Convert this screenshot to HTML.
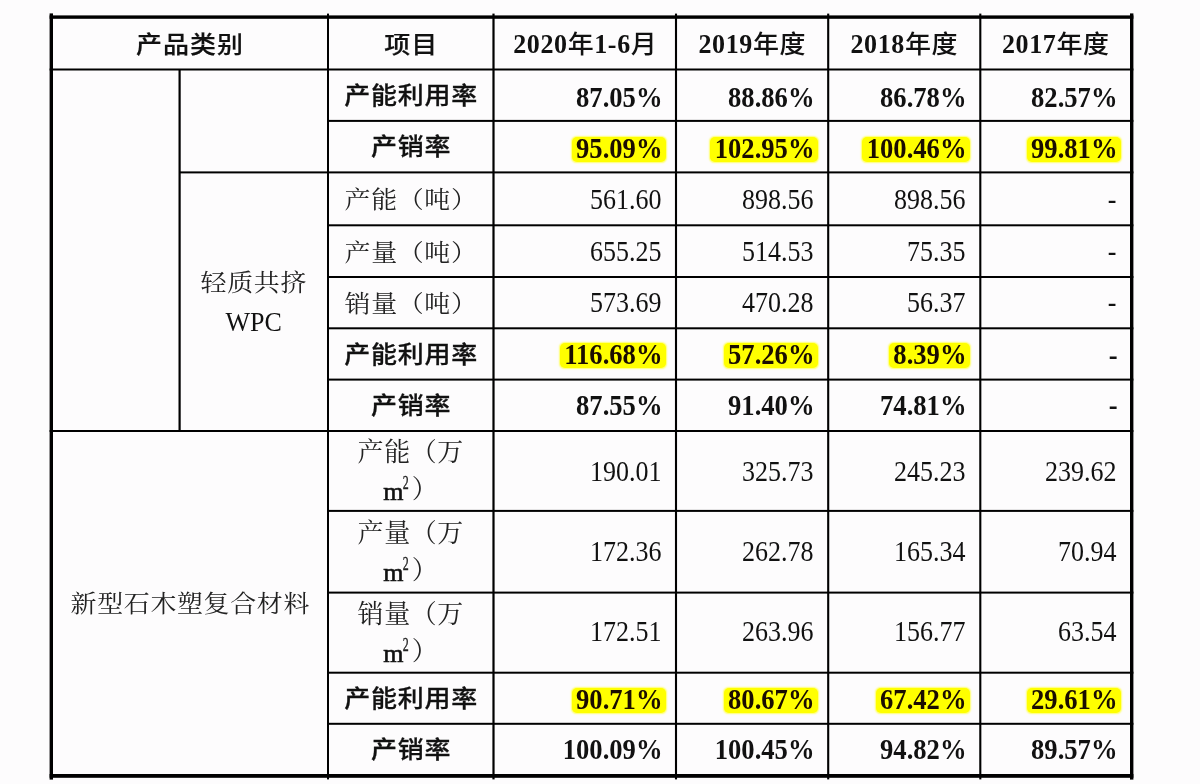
<!DOCTYPE html>
<html><head><meta charset="utf-8"><style>
html,body{margin:0;padding:0;}
body{width:1200px;height:784px;background:#fdfcfd;position:relative;overflow:hidden;}
.l{position:absolute;background:#000;}
.l.g{background:#3a3a3a;}
.c{position:absolute;display:flex;align-items:center;justify-content:center;text-align:center;box-sizing:border-box;white-space:nowrap;}
.c.r{justify-content:flex-end;padding-right:13.5px;}
.i{display:block;}
.hk{font-family:"Noto Sans CJK SC",sans-serif;font-weight:500;font-size:26px;color:#111;letter-spacing:1px;-webkit-text-stroke:0.2px #111;}
.hk .i{transform:translate(0.5px,-2px) scaleY(0.9);}
.hy{font-family:"Noto Sans CJK SC",sans-serif;font-weight:500;font-size:26px;color:#111;letter-spacing:0.6px;}
.hy .i{transform:translate(0.3px,-3.2px) scaleY(0.98);}
.ltb{font-family:"Liberation Serif",serif;font-weight:700;display:inline-block;transform:scaleY(1.1);}
.lb{font-family:"Noto Sans CJK SC",sans-serif;font-weight:500;font-size:26px;color:#111;letter-spacing:0.8px;-webkit-text-stroke:0.3px #111;}
.lb .i{transform:translate(0.4px,-1.5px) scaleY(0.9);}
.lr,.lr2l{font-family:"Liberation Serif","Noto Serif CJK SC",serif;font-weight:400;font-size:26px;color:#222;letter-spacing:0.6px;}
.lr .i{transform:translate(0.3px,-0.5px) scaleY(0.9);}
.lr2l{line-height:37px;}
.sp{display:inline-block;font-size:14px;line-height:10px;transform:translate(-1.8px,-10px) scale(0.85,1.3);font-weight:400;-webkit-text-stroke:0.3px #222;}
.m{font-weight:400;-webkit-text-stroke:0.6px #111;color:#111;display:inline-block;transform:translateY(1.5px);}
.lw,.ln{font-family:"Liberation Serif","Noto Serif CJK SC",serif;font-weight:400;font-size:26px;color:#222;line-height:40px;letter-spacing:0.6px;}
.ln .i{transform:translate(0.3px,1.5px) scaleY(0.9);}
.wpc{color:#111;display:inline-block;transform:scaleY(1.08);letter-spacing:0;}
.n{display:inline-block;line-height:20px;transform:translateY(2px) scaleY(1.1);}
.nb{font-family:"Liberation Serif",serif;font-weight:700;font-size:26.6px;color:#111;}
.c.r.nb{padding-right:12.5px;}
.nb .n{transform:translateY(2px) scaleY(1.075);}
.nb .hl .n{transform:scaleY(1.075);}
.nr{font-family:"Liberation Serif",serif;font-weight:400;font-size:26px;color:#111;}
.hl{display:inline-block;line-height:20px;background:#ffff00;border-radius:5px;padding:0.5px 3.5px 4.5px 4.5px;margin-right:-3.5px;transform:translateY(3px);box-shadow:0 0 1.5px 0.5px #ffff70;color:#1a0d00;}
.hl .n{transform:scaleY(1.1);}
.k{display:inline-block;transform:translateY(1.5px) scaleY(0.92);}
.nb .i,.nr .i{display:flex;align-items:center;}
#w{position:absolute;left:0;top:0;width:1200px;height:784px;filter:blur(0.35px);}
.lines{position:absolute;left:0;top:0;}

</style></head><body><div id="w">
<svg class="lines" width="1200" height="784" viewBox="0 0 1200 784"><rect x="49.6" y="15.4" width="1083.8" height="3.4" fill="#000"/><rect x="49.6" y="68.5" width="1083.8" height="2.0" fill="#000"/><rect x="328" y="119.9" width="805.4" height="2.0" fill="#000"/><rect x="179.6" y="171.4" width="953.8" height="2.0" fill="#000"/><rect x="328" y="224.3" width="805.4" height="2.0" fill="#000"/><rect x="328" y="276.0" width="805.4" height="2.0" fill="#000"/><rect x="328" y="327.3" width="805.4" height="2.0" fill="#000"/><rect x="328" y="378.6" width="805.4" height="2.0" fill="#000"/><rect x="49.6" y="430.0" width="1083.8" height="2.0" fill="#000"/><rect x="328" y="509.9" width="805.4" height="2.0" fill="#000"/><rect x="328" y="591.6" width="805.4" height="2.0" fill="#000"/><rect x="328" y="671.7" width="805.4" height="2.0" fill="#000"/><rect x="328" y="722.8" width="805.4" height="2.0" fill="#000"/><rect x="49.6" y="774.0" width="1083.8" height="3.8" fill="#000"/><rect x="49.6" y="13.4" width="3.4" height="766.2" fill="#000"/><rect x="178.5" y="69.5" width="2.2" height="361.5" fill="#000"/><rect x="327.0" y="13.6" width="2.0" height="765.8" fill="#000"/><rect x="492.4" y="13.6" width="2.2" height="765.8" fill="#000"/><rect x="674.95" y="13.6" width="2.1" height="765.8" fill="#000"/><rect x="827.15" y="13.6" width="2.1" height="765.8" fill="#000"/><rect x="979.25" y="13.6" width="2.1" height="765.8" fill="#000"/><rect x="1130.0" y="13.4" width="3.4" height="766.2" fill="#000"/></svg>
<div class="c hk c" style="left:51px;top:19px;width:277px;height:50px"><div class="i">产品类别</div></div>
<div class="c hk c" style="left:328px;top:19px;width:165.5px;height:50px"><div class="i">项目</div></div>
<div class="c hy c" style="left:494px;top:19px;width:182px;height:50px"><div class="i"><span class="ltb">2020</span>年<span class="ltb">1-6</span>月</div></div>
<div class="c hy c" style="left:676px;top:19px;width:152px;height:50px"><div class="i"><span class="ltb">2019</span>年度</div></div>
<div class="c hy c" style="left:828px;top:19px;width:152px;height:50px"><div class="i"><span class="ltb">2018</span>年度</div></div>
<div class="c hy c" style="left:980px;top:19px;width:151px;height:50px"><div class="i"><span class="ltb">2017</span>年度</div></div>
<div class="c lb c" style="left:329px;top:71px;width:163.5px;height:49px"><div class="i">产能利用率</div></div>
<div class="c nb r" style="left:495px;top:70.6px;width:180px;height:49.0px"><div class="i"><span class="n">87.05%</span></div></div>
<div class="c nb r" style="left:677px;top:70.6px;width:150px;height:49.0px"><div class="i"><span class="n">88.86%</span></div></div>
<div class="c nb r" style="left:829px;top:70.6px;width:150px;height:49.0px"><div class="i"><span class="n">86.78%</span></div></div>
<div class="c nb r" style="left:981px;top:70.6px;width:149px;height:49.0px"><div class="i"><span class="n">82.57%</span></div></div>
<div class="c lb c" style="left:329px;top:122px;width:163.5px;height:49px"><div class="i">产销率</div></div>
<div class="c nb r" style="left:495px;top:122.0px;width:180px;height:49.0px"><div class="i"><span class="hl"><span class="n">95.09%</span></span></div></div>
<div class="c nb r" style="left:677px;top:122.0px;width:150px;height:49.0px"><div class="i"><span class="hl"><span class="n">102.95%</span></span></div></div>
<div class="c nb r" style="left:829px;top:122.0px;width:150px;height:49.0px"><div class="i"><span class="hl"><span class="n">100.46%</span></span></div></div>
<div class="c nb r" style="left:981px;top:122.0px;width:149px;height:49.0px"><div class="i"><span class="hl"><span class="n">99.81%</span></span></div></div>
<div class="c lr c" style="left:329px;top:173px;width:163.5px;height:51px"><div class="i">产能（吨）</div></div>
<div class="c nr r" style="left:495px;top:172.15px;width:180px;height:51.0px"><div class="i"><span class="n">561.60</span></div></div>
<div class="c nr r" style="left:677px;top:172.15px;width:150px;height:51.0px"><div class="i"><span class="n">898.56</span></div></div>
<div class="c nr r" style="left:829px;top:172.15px;width:150px;height:51.0px"><div class="i"><span class="n">898.56</span></div></div>
<div class="c nr r" style="left:981px;top:172.15px;width:149px;height:51.0px"><div class="i"><span class="n">-</span></div></div>
<div class="c lr c" style="left:329px;top:226px;width:163.5px;height:50px"><div class="i">产量（吨）</div></div>
<div class="c nr r" style="left:495px;top:224.75px;width:180px;height:50.0px"><div class="i"><span class="n">655.25</span></div></div>
<div class="c nr r" style="left:677px;top:224.75px;width:150px;height:50.0px"><div class="i"><span class="n">514.53</span></div></div>
<div class="c nr r" style="left:829px;top:224.75px;width:150px;height:50.0px"><div class="i"><span class="n">75.35</span></div></div>
<div class="c nr r" style="left:981px;top:224.75px;width:149px;height:50.0px"><div class="i"><span class="n">-</span></div></div>
<div class="c lr c" style="left:329px;top:278px;width:163.5px;height:49px"><div class="i">销量（吨）</div></div>
<div class="c nr r" style="left:495px;top:276.6px;width:180px;height:49.0px"><div class="i"><span class="n">573.69</span></div></div>
<div class="c nr r" style="left:677px;top:276.6px;width:150px;height:49.0px"><div class="i"><span class="n">470.28</span></div></div>
<div class="c nr r" style="left:829px;top:276.6px;width:150px;height:49.0px"><div class="i"><span class="n">56.37</span></div></div>
<div class="c nr r" style="left:981px;top:276.6px;width:149px;height:49.0px"><div class="i"><span class="n">-</span></div></div>
<div class="c lb c" style="left:329px;top:329px;width:163.5px;height:50px"><div class="i">产能利用率</div></div>
<div class="c nb r" style="left:495px;top:327.6px;width:180px;height:50.0px"><div class="i"><span class="hl"><span class="n">116.68%</span></span></div></div>
<div class="c nb r" style="left:677px;top:327.6px;width:150px;height:50.0px"><div class="i"><span class="hl"><span class="n">57.26%</span></span></div></div>
<div class="c nb r" style="left:829px;top:327.6px;width:150px;height:50.0px"><div class="i"><span class="hl"><span class="n">8.39%</span></span></div></div>
<div class="c nb r" style="left:981px;top:327.6px;width:149px;height:50.0px"><div class="i"><span class="n">-</span></div></div>
<div class="c lb c" style="left:329px;top:381px;width:163.5px;height:49px"><div class="i">产销率</div></div>
<div class="c nb r" style="left:495px;top:378.0px;width:180px;height:49.0px"><div class="i"><span class="n">87.55%</span></div></div>
<div class="c nb r" style="left:677px;top:378.0px;width:150px;height:49.0px"><div class="i"><span class="n">91.40%</span></div></div>
<div class="c nb r" style="left:829px;top:378.0px;width:150px;height:49.0px"><div class="i"><span class="n">74.81%</span></div></div>
<div class="c nb r" style="left:981px;top:378.0px;width:149px;height:49.0px"><div class="i"><span class="n">-</span></div></div>
<div class="c lr2l c" style="left:329px;top:432px;width:163.5px;height:78px"><div class="i">产能（万<br><span class="m">m</span><span class="sp">2</span>）</div></div>
<div class="c nr r" style="left:495px;top:431.25px;width:180px;height:78.0px"><div class="i"><span class="n">190.01</span></div></div>
<div class="c nr r" style="left:677px;top:431.25px;width:150px;height:78.0px"><div class="i"><span class="n">325.73</span></div></div>
<div class="c nr r" style="left:829px;top:431.25px;width:150px;height:78.0px"><div class="i"><span class="n">245.23</span></div></div>
<div class="c nr r" style="left:981px;top:431.25px;width:149px;height:78.0px"><div class="i"><span class="n">239.62</span></div></div>
<div class="c lr2l c" style="left:329px;top:512px;width:163.5px;height:80px"><div class="i">产量（万<br><span class="m">m</span><span class="sp">2</span>）</div></div>
<div class="c nr r" style="left:495px;top:510.0px;width:180px;height:80.0px"><div class="i"><span class="n">172.36</span></div></div>
<div class="c nr r" style="left:677px;top:510.0px;width:150px;height:80.0px"><div class="i"><span class="n">262.78</span></div></div>
<div class="c nr r" style="left:829px;top:510.0px;width:150px;height:80.0px"><div class="i"><span class="n">165.34</span></div></div>
<div class="c nr r" style="left:981px;top:510.0px;width:149px;height:80.0px"><div class="i"><span class="n">70.94</span></div></div>
<div class="c lr2l c" style="left:329px;top:594px;width:163.5px;height:78px"><div class="i">销量（万<br><span class="m">m</span><span class="sp">2</span>）</div></div>
<div class="c nr r" style="left:495px;top:591.1px;width:180px;height:78.0px"><div class="i"><span class="n">172.51</span></div></div>
<div class="c nr r" style="left:677px;top:591.1px;width:150px;height:78.0px"><div class="i"><span class="n">263.96</span></div></div>
<div class="c nr r" style="left:829px;top:591.1px;width:150px;height:78.0px"><div class="i"><span class="n">156.77</span></div></div>
<div class="c nr r" style="left:981px;top:591.1px;width:149px;height:78.0px"><div class="i"><span class="n">63.54</span></div></div>
<div class="c lb c" style="left:329px;top:674px;width:163.5px;height:49px"><div class="i">产能利用率</div></div>
<div class="c nb r" style="left:495px;top:673.0px;width:180px;height:49.0px"><div class="i"><span class="hl"><span class="n">90.71%</span></span></div></div>
<div class="c nb r" style="left:677px;top:673.0px;width:150px;height:49.0px"><div class="i"><span class="hl"><span class="n">80.67%</span></span></div></div>
<div class="c nb r" style="left:829px;top:673.0px;width:150px;height:49.0px"><div class="i"><span class="hl"><span class="n">67.42%</span></span></div></div>
<div class="c nb r" style="left:981px;top:673.0px;width:149px;height:49.0px"><div class="i"><span class="hl"><span class="n">29.61%</span></span></div></div>
<div class="c lb c" style="left:329px;top:725px;width:163.5px;height:49px"><div class="i">产销率</div></div>
<div class="c nb r" style="left:495px;top:722.0px;width:180px;height:49.0px"><div class="i"><span class="n">100.09%</span></div></div>
<div class="c nb r" style="left:677px;top:722.0px;width:150px;height:49.0px"><div class="i"><span class="n">100.45%</span></div></div>
<div class="c nb r" style="left:829px;top:722.0px;width:150px;height:49.0px"><div class="i"><span class="n">94.82%</span></div></div>
<div class="c nb r" style="left:981px;top:722.0px;width:149px;height:49.0px"><div class="i"><span class="n">89.57%</span></div></div>
<div class="c lw c" style="left:180.5px;top:173px;width:146.5px;height:257px"><div class="i"><span class="k">轻质共挤</span><br><span class="wpc">WPC</span></div></div>
<div class="c ln c" style="left:53px;top:432px;width:274px;height:342px"><div class="i">新型石木塑复合材料</div></div>
</div></body></html>
